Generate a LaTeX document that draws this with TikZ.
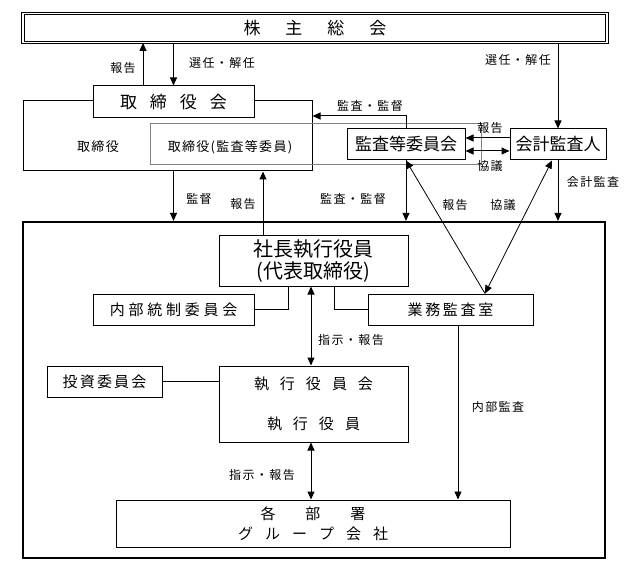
\documentclass[tikz,border=0pt]{standalone}
\usepackage{fontspec}
\setmainfont{Noto Sans CJK JP}
\usetikzlibrary{arrows.meta}
\tikzset{
	box/.style={draw, line width=1pt, fill=white, inner sep=0pt, align=center},
	lbl/.style={inner sep=0pt, font=\fontsize{12}{14}\selectfont\addfontfeature{LetterSpace=12}},
	arr/.style={line width=1pt, -{Triangle[length=8pt, width=7pt]}},
	dblarr/.style={line width=1pt, {Triangle[length=8pt, width=7pt]}-{Triangle[length=8pt, width=7pt]}},
}
\begin{document}
\begin{tikzpicture}[x=1pt, y=-1pt]
			\useasboundingbox (0,0) rectangle (630,575);
			\node (meeting) [box, double, double distance=1.8pt, line width=0.9pt, minimum width=584pt, minimum height=29pt, font=\fontsize{17}{20}\selectfont] at (315,28) {株\hspace{25pt}主\hspace{25pt}総\hspace{25pt}会};
			\node (directors) [draw, line width=1pt, minimum width=289pt, minimum height=70pt] at (167.5,136) {};
			\node (members) [draw=gray, line width=0.8pt, minimum width=331pt, minimum height=41pt] at (315.5,143.5) {};
			\node (dirlabel) [lbl, font=\fontsize{13}{15}\selectfont\addfontfeature{LetterSpace=10}] at (98,147) {取締役};
			\node (memlabel) [lbl, font=\fontsize{13}{15}\selectfont\addfontfeature{LetterSpace=10}] at (230,147) {取締役(監査等委員)};
			\node (board) [box, minimum width=161pt, minimum height=32pt, font=\fontsize{17}{20}\selectfont] at (173.5,102) {取\hspace{13pt}締\hspace{13pt}役\hspace{13pt}会};
			\node (auditcom) [box, minimum width=118pt, minimum height=31pt, font=\fontsize{17}{20}\selectfont] at (406,144.5) {監査等委員会};
			\node (auditor) [box, minimum width=96pt, minimum height=31pt, font=\fontsize{17}{20}\selectfont] at (558,144.5) {会計監査人};
			\node (exec) [draw, line width=2.2pt, minimum width=582pt, minimum height=336pt] at (314,390) {};
			\node (president) [box, minimum width=189pt, minimum height=50pt, font=\fontsize{20}{22}\selectfont] at (313.5,261) {社長執行役員\\(代表取締役)};
			\node (control) [box, minimum width=161pt, minimum height=31pt, font=\fontsize{15}{18}\selectfont\addfontfeature{LetterSpace=25}] at (173.5,309.5) {内部統制委員会};
			\node (internal) [box, minimum width=165pt, minimum height=31pt, font=\fontsize{15}{18}\selectfont\addfontfeature{LetterSpace=18}] at (450.5,309.5) {業務監査室};
			\node (invest) [box, minimum width=115pt, minimum height=31pt, font=\fontsize{15}{18}\selectfont\addfontfeature{LetterSpace=15}] at (104.5,381.5) {投資委員会};
			\node (officers) [box, minimum width=189pt, minimum height=76pt, font=\fontsize{15}{40}\selectfont] at (313.5,404) {執\hspace{11pt}行\hspace{11pt}役\hspace{11pt}員\hspace{11pt}会\\執\hspace{11pt}行\hspace{11pt}役\hspace{11pt}員};
			\node (depts) [box, minimum width=394pt, minimum height=47pt, font=\fontsize{15}{20}\selectfont] at (313,523.5) {各\hspace{30pt}部\hspace{30pt}署\\グ\hspace{12pt}ル\hspace{12pt}ー\hspace{12pt}プ\hspace{12pt}会\hspace{12pt}社};
			\coordinate (meet) at (internal.north -| 485,0);
			\draw[arr] (board.north -| 143,0) -- (meeting.south -| 143,0);
			\draw[arr] (meeting.south -| board.north) -- (board.north);
			\draw[arr] (meeting.south -| auditor.north) -- (auditor.north);
			\draw[arr] (auditcom.north) |- (directors.east |- 0,116);
			\draw[arr] (auditor.west |- 0,138) -- (auditcom.east |- 0,138);
			\draw[dblarr] (auditcom.east |- 0,151) -- (auditor.west |- 0,151);
			\draw[arr] (directors.south -| board.south) -- (exec.north -| board.south);
			\draw[arr] (president.north -| 263,0) -- (directors.south -| 263,0);
			\draw[arr] (auditcom.south) -- (auditcom.south |- exec.north);
			\draw[arr] (auditor.south) -- (auditor.south |- exec.north);
			\draw[arr, line width=0.8pt] (meet) -- (auditcom.south);
			\draw[dblarr, line width=0.8pt] (meet) -- ([xshift=-6pt]auditor.south);
			\draw[line width=1pt] (control.east) -| (president.south -| 288,0);
			\draw[line width=1pt] (internal.west) -| (president.south -| 334,0);
			\draw[dblarr] (president.south -| 311,0) -- (officers.north -| 311,0);
			\draw[line width=1pt] (invest.east) -- (officers.west |- invest.east);
			\draw[dblarr] (officers.south -| 311,0) -- (depts.north -| 311,0);
			\draw[arr, line width=0.8pt] (internal.south -| 458,0) -- (depts.north -| 458,0);
			\node (report1) [lbl] at (123,68) {報告};
			\node (elect1) [lbl] at (222,63) {選任・解任};
			\node (elect2) [lbl] at (518,60) {選任・解任};
			\node (audit1) [lbl] at (370,106) {監査・監督};
			\node (report2) [lbl] at (490,128) {報告};
			\node (consult1) [lbl] at (490,166) {協議};
			\node (account) [lbl] at (593,182) {会計監査};
			\node (superv) [lbl] at (199,199) {監督};
			\node (report3) [lbl] at (243,204) {報告};
			\node (audit2) [lbl] at (353,199) {監査・監督};
			\node (report4) [lbl] at (455,205) {報告};
			\node (consult2) [lbl] at (503,205) {協議};
			\node (order1) [lbl] at (351,340) {指示・報告};
			\node (order2) [lbl] at (262,475) {指示・報告};
			\node (inaudit) [lbl] at (498,407) {内部監査};
		\end{tikzpicture}
\end{document}
